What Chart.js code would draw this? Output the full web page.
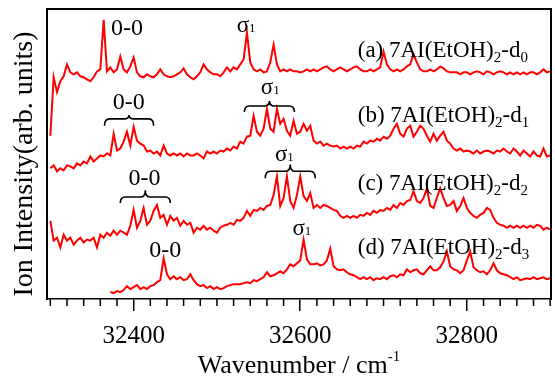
<!DOCTYPE html>
<html>
<head>
<meta charset="utf-8">
<script src="https://cdn.jsdelivr.net/npm/chart.js@4.4.1/dist/chart.umd.min.js"></script>
<style>
  html, body { margin: 0; padding: 0; background: #fff; overflow: hidden; }
  canvas { display: block; }
</style>
</head>
<body>
<canvas id="espectro" width="555" height="383"></canvas>
<script>
// ===============================
// DATOS
// ===============================
const numerosOnda = [
  32300,32304,32308,32312,32316,32320,32324,32328,32332,32336,
  32340,32344,32348,32352,32356,32360,32364,32368,32372,32376,
  32380,32384,32388,32392,32396,32400,32404,32408,32412,32416,
  32420,32424,32428,32432,32436,32440,32444,32448,32452,32456,
  32460,32464,32468,32472,32476,32480,32484,32488,32492,32496,
  32500,32504,32508,32512,32516,32520,32524,32528,32532,32536,
  32540,32544,32548,32552,32556,32560,32564,32568,32572,32576,
  32580,32584,32588,32592,32596,32600,32604,32608,32612,32616,
  32620,32624,32628,32632,32636,32640,32644,32648,32652,32656,
  32660,32664,32668,32672,32676,32680,32684,32688,32692,32696,
  32700,32704,32708,32712,32716,32720,32724,32728,32732,32736,
  32740,32744,32748,32752,32756,32760,32764,32768,32772,32776,
  32780,32784,32788,32792,32796,32800,32804,32808,32812,32816,
  32820,32824,32828,32832,32836,32840,32844,32848,32852,32856,
  32860,32864,32868,32872,32876,32880,32884,32888,32892,32896,
  32900
];

// (a) d0
const trazaA = [
  -61,-2,-17,-6,-1,11,3,1,3,-1,
  -2,-4,-6,-2,4,6,56,4,8,3,
  6,19,6,3,9,18,3,-1,-2,1,
  -1,-2,1,6,1,-1,-2,-1,1,3,
  7,1,-2,-4,-1,3,11,6,3,1,
  1,-1,3,8,4,8,6,11,16,43,
  13,6,4,6,3,4,13,31,11,4,
  6,4,6,4,4,3,4,6,4,6,
  4,6,8,9,6,4,6,8,6,4,
  6,8,9,6,4,4,6,4,6,8,
  24,11,6,4,6,4,6,9,11,21,
  13,6,4,4,6,4,6,9,7,4,
  3,3,3,1,3,3,1,3,4,3,
  1,4,3,1,3,4,3,1,3,1,
  3,1,3,1,3,3,1,3,6,3,
  4
];

// (b) d1
const trazaB = [
  -4,-1,-7,-4,-6,-1,-2,-4,1,-1,
  3,1,8,3,6,9,8,11,9,31,
  14,16,23,33,19,38,24,21,19,13,
  14,11,13,9,19,11,9,11,9,11,
  8,11,9,9,11,9,6,13,11,13,
  11,14,13,16,14,18,16,23,21,28,
  29,49,33,29,36,56,36,33,56,41,
  46,34,29,44,31,33,41,34,39,24,
  21,23,19,21,19,18,19,16,18,16,
  18,16,19,18,23,21,24,23,26,24,
  28,26,29,36,41,31,28,36,39,28,
  33,39,36,29,23,31,24,29,33,24,
  21,16,14,16,13,14,13,11,14,11,
  13,14,13,11,14,13,16,13,11,16,
  13,9,14,11,8,13,9,8,16,8,
  9
];

// (c) d2
const trazaC = [
  18,-2,1,-9,4,-2,1,-6,-2,1,
  -4,-1,-2,1,-9,4,1,6,3,8,
  4,8,6,4,13,29,11,18,31,14,
  18,28,34,21,24,14,23,18,21,13,
  18,14,16,6,11,9,13,9,11,8,
  6,11,13,14,16,14,19,18,21,28,
  23,29,28,31,29,33,34,44,63,33,
  41,63,38,31,44,63,43,38,46,31,
  34,31,34,33,31,29,28,23,21,23,
  21,23,21,24,23,26,24,28,26,29,
  28,31,29,34,31,36,34,38,39,48,
  38,36,41,51,33,31,41,51,41,33,
  34,38,28,33,41,31,26,23,21,24,
  26,31,29,21,16,14,13,11,13,11,
  13,11,13,11,13,11,14,13,9,11,
  9
];

// (d) d3 (empieza en ~32372)
const trazaD = [
  null,null,null,null,null,null,null,null,null,null,
  null,null,null,null,null,null,null,null,1,0,
  2,1,3,7,4,6,8,4,6,4,
  7,8,11,13,35,19,14,17,14,16,
  13,14,19,13,9,7,8,5,7,4,
  6,4,5,7,8,9,9,9,10,11,
  10,13,12,14,16,21,17,18,20,22,
  20,24,29,27,30,33,54,34,29,29,
  30,28,29,33,45,27,24,23,24,21,
  19,18,16,14,16,14,16,13,15,14,
  16,14,17,18,16,19,18,24,21,23,
  24,20,19,23,27,23,23,26,32,42,
  27,24,23,20,23,33,42,26,23,21,
  22,19,23,30,23,20,19,18,16,14,
  16,13,14,15,14,16,14,15,16,14,
  15
];

const trazas = [trazaA, trazaB, trazaC, trazaD];
const desplazamientos = [225, 135, 60, 5];   // separación vertical de cada espectro
const nombresMuestra = ["0", "1", "2", "3"];
const letras = ["(a)", "(b)", "(c)", "(d)"];

const marcasMayores = [32400, 32600, 32800];
const pasoMenor = 20;

const fuente = "'Liberation Serif', 'Times New Roman', serif";


// ===============================
// ANOTACIONES (posiciones en unidades de los ejes)
// ===============================
const posEtiquetas = [244, 178, 109, 44];     // línea base de "(a) 7AI(EtOH)2-dX"
const etiquetaX = 32669;

const marcas00 = [
  { v: 32392, h: 266 },
  { v: 32394, h: 191 },
  { v: 32413, h: 114 },
  { v: 32438, h: 41 }
];
const marcasSigma = [
  { v: 32535, h: 269 },
  { v: 32564, h: 206 },
  { v: 32581, h: 138 },
  { v: 32602, h: 64 }
];
const llaves = [
  { v1: 32365, v2: 32424, punta: 174, cuerpo: 181, centro: 185 },
  { v1: 32533, v2: 32593, punta: 188, cuerpo: 194, centro: 199 },
  { v1: 32384, v2: 32444, punta: 96, cuerpo: 102, centro: 109 },
  { v1: 32558, v2: 32618, punta: 121, cuerpo: 128, centro: 135 }
];


// ===============================
// TEXTO CON SUB/SUPERÍNDICES
// ===============================
function dibujarPartes(ctx, partes, x, y, alinear) {
  let ancho = 0;
  partes.forEach(p => {
    ctx.font = `${p.size}px ${fuente}`;
    p.w = ctx.measureText(p.t).width;
    ancho += p.w;
  });
  let cx = alinear === "center" ? x - ancho / 2 : x;
  ctx.textAlign = "left";
  ctx.textBaseline = "alphabetic";
  partes.forEach(p => {
    ctx.font = `${p.size}px ${fuente}`;
    ctx.fillText(p.t, cx, y + (p.dy || 0));
    cx += p.w;
  });
}

function dibujarMarco(chart) {
  const ctx = chart.ctx;
  const ca = chart.chartArea;
  ctx.save();
  ctx.fillStyle = "#000";
  const izq = Math.round(ca.left), der = Math.round(ca.right);
  const arr = Math.round(ca.top), abj = Math.round(ca.bottom);
  ctx.fillRect(izq - 1, arr - 1, der - izq + 2, 2);   // arriba
  ctx.fillRect(der - 1, arr - 1, 2, abj - arr + 2);   // derecha
  ctx.fillRect(izq - 1, arr - 1, 2, abj - arr + 2);   // izquierda
  ctx.restore();
}

const pluginAnotaciones = {
  id: "anotaciones",
  afterDatasetsDraw(chart) {
    dibujarMarco(chart);
  },
  afterDraw(chart) {
    const ctx = chart.ctx;
    const ca = chart.chartArea;
    const sx = chart.scales.x, sy = chart.scales.y;

    ctx.save();
    ctx.fillStyle = "#000";
    ctx.strokeStyle = "#000";

    // marcas menores
    ctx.lineWidth = 1.5;
    for (let v = 32300; v <= 32900; v += pasoMenor) {
      if (marcasMayores.includes(v)) continue;
      const px = sx.getPixelForValue(v);
      ctx.beginPath();
      ctx.moveTo(px, ca.bottom);
      ctx.lineTo(px, ca.bottom + 7);
      ctx.stroke();
    }

    // etiquetas de cada espectro
    letras.forEach((l, i) => {
      dibujarPartes(ctx, [
        { t: `${l} 7AI(EtOH)`, size: 23 },
        { t: "2", size: 15, dy: 5 },
        { t: "-d", size: 23 },
        { t: nombresMuestra[i], size: 15, dy: 5 }
      ], sx.getPixelForValue(etiquetaX), sy.getPixelForValue(posEtiquetas[i]), "left");
    });

    // 0-0
    marcas00.forEach(m => {
      dibujarPartes(ctx, [{ t: "0-0", size: 24 }],
        sx.getPixelForValue(m.v), sy.getPixelForValue(m.h), "center");
    });

    // sigma1
    marcasSigma.forEach(m => {
      dibujarPartes(ctx, [{ t: "σ", size: 23 }, { t: "1", size: 13 }],
        sx.getPixelForValue(m.v), sy.getPixelForValue(m.h), "center");
    });

    // llaves
    ctx.lineWidth = 1.6;
    llaves.forEach(b => {
      const x1 = sx.getPixelForValue(b.v1), x2 = sx.getPixelForValue(b.v2);
      const xm = (x1 + x2) / 2;
      const yp = sy.getPixelForValue(b.punta);
      const yc = sy.getPixelForValue(b.cuerpo);
      const ym = sy.getPixelForValue(b.centro);
      const r = 5;
      ctx.beginPath();
      ctx.moveTo(x1, yp);
      ctx.quadraticCurveTo(x1, yc, x1 + r, yc);
      ctx.lineTo(xm - r, yc);
      ctx.quadraticCurveTo(xm, yc, xm, ym);
      ctx.quadraticCurveTo(xm, yc, xm + r, yc);
      ctx.lineTo(x2 - r, yc);
      ctx.quadraticCurveTo(x2, yc, x2, yp);
      ctx.stroke();
    });

    // título eje y
    ctx.save();
    ctx.translate(32, 164);
    ctx.rotate(-Math.PI / 2);
    ctx.font = `28px ${fuente}`;
    ctx.textAlign = "center";
    ctx.textBaseline = "alphabetic";
    ctx.fillText("Ion Intensity(arb. units)", 0, 0);
    ctx.restore();

    // título eje x
    dibujarPartes(ctx, [
      { t: "Wavenumber / cm", size: 26 },
      { t: "-1", size: 15, dy: -12 }
    ], 299, 373, "center");

    ctx.restore();

    // marco otra vez, encima de todo
    dibujarMarco(chart);
  }
};


// ===============================
// GRÁFICA
// ===============================
const datasets = trazas.map((serie, i) => ({
  data: numerosOnda.map((w, k) => ({
    x: w,
    y: serie[k] === null ? null : serie[k] + desplazamientos[i]
  })),
  borderColor: "#ff0000",
  borderWidth: 2,
  pointRadius: 0,
  tension: 0,
  spanGaps: false
}));

// ejes sin marcas, sólo para cerrar el marco
const ejeBorde = (pos, min, max) => ({
  position: pos,
  type: "linear",
  min, max,
  ticks: { display: false },
  grid: { display: false, drawTicks: false },
  border: { display: true, color: "#000", width: 1.5 }
});

new Chart(document.getElementById("espectro"), {
  type: "line",
  data: { datasets },
  options: {
    responsive: false,
    animation: false,
    devicePixelRatio: 1,
    layout: { padding: { left: 47, right: 4, top: 9, bottom: 22 } },
    plugins: {
      legend: { display: false },
      tooltip: { enabled: false }
    },
    scales: {
      x: {
        type: "linear",
        min: 32296,
        max: 32901,
        afterBuildTicks: s => { s.ticks = marcasMayores.map(v => ({ value: v })); },
        ticks: {
          color: "#000",
          font: { family: fuente, size: 25 },
          padding: 10,
          maxRotation: 0,
          autoSkip: false,
          callback: v => String(v)
        },
        grid: { drawOnChartArea: false, tickLength: 12, color: "#000", lineWidth: 1.5 },
        border: { display: true, color: "#000", width: 1.5 }
      },
      y: ejeBorde("left", -1, 292),
      yDer: ejeBorde("right", -1, 292),
      xSup: ejeBorde("top", 32296, 32901)
    }
  },
  plugins: [pluginAnotaciones]
});
</script>
</body>
</html>
